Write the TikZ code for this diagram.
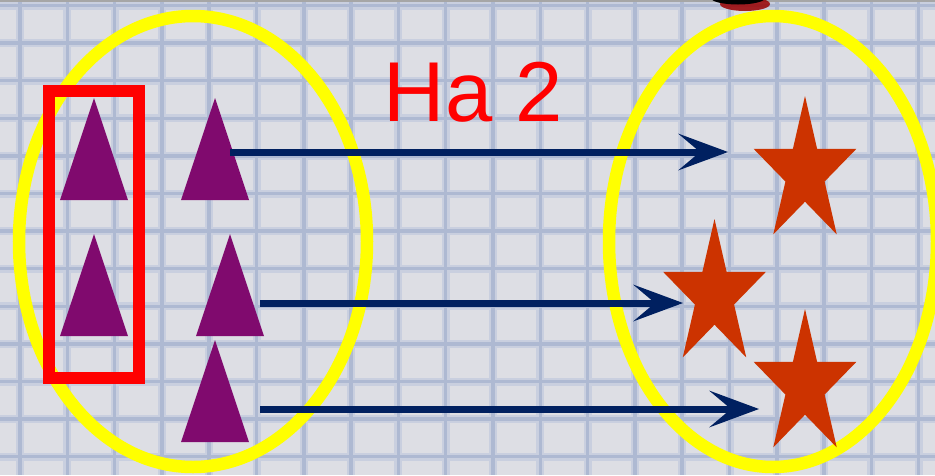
\documentclass[tikz,border=0pt]{standalone}
\usepackage{fontspec}
\setmainfont{Liberation Sans}
\usetikzlibrary{arrows.meta}
\definecolor{bgc}{RGB}{221,222,228}
\definecolor{gridsoft}{RGB}{201,207,223}
\definecolor{gridc}{RGB}{174,185,210}
\definecolor{tric}{RGB}{128,10,110}
\definecolor{starc}{RGB}{204,51,0}
\definecolor{navyc}{RGB}{0,32,96}
\definecolor{yelc}{RGB}{255,255,0}
\definecolor{redc}{RGB}{255,0,0}
\tikzset{
  gridhalo/.style={draw=gridsoft, line width=8pt},
  gridline/.style={draw=gridc, line width=3.5pt},
  setring/.style={draw=yelc, line width=12.5pt},
  groupbox/.style={draw=redc, line width=12pt},
  tri/.style={fill=tric},
  starfill/.style={fill=starc},
  maparrow/.style={draw=navyc, line width=7pt,
    -{Stealth[length=50pt,width=37pt,inset=22pt,line width=0pt]}},
  title/.style={text=redc, font=\fontsize{85}{100}\selectfont, inner sep=0pt, anchor=base west}
}
\newcommand\mystarshape[2]{%
  \begin{scope}[shift={(#1,#2)}]
    \fill[starfill] (-90:54 and 76.5) -- (-54:20.6 and 29.2) -- (-18:54 and 76.5)
      -- (18:20.6 and 29.2) -- (54:54 and 76.5) -- (90:20.6 and 29.2)
      -- (126:54 and 76.5) -- (162:20.6 and 29.2) -- (198:54 and 76.5)
      -- (234:20.6 and 29.2) -- cycle;
  \end{scope}}
\begin{document}
\begin{tikzpicture}[x=1pt,y=-1pt]
\useasboundingbox (0,0) rectangle (935,475);
% paper background
\fill[bgc] (0,0) rectangle (935,475);
\foreach \k in {0,...,19} \draw[gridhalo] (20+47.3*\k,0) -- (20+47.3*\k,475);
\foreach \k in {0,...,12} \draw[gridhalo] (0,5.5+37.6*\k) -- (935,5.5+37.6*\k);
\foreach \k in {0,...,19} \draw[gridline] (20+47.3*\k,0) -- (20+47.3*\k,475);
\foreach \k in {0,...,12} \draw[gridline] (0,5.5+37.6*\k) -- (935,5.5+37.6*\k);
\fill[black!35] (0,0) rectangle (935,2);
% cropped blob at top
\fill[red!60!black, opacity=0.85] (745,4) ellipse (25 and 7);
\fill[black] (738,-2) ellipse (27 and 6.5);
% sets
\draw[setring] (193,241.5) ellipse (174 and 225.5);
\draw[setring] (773,241.5) ellipse (164 and 225.5);
% group of two
\draw[groupbox] (49,91) rectangle (139,378);
% triangles
\fill[tri] (94,98) -- (128,200) -- (60,200) -- cycle;
\fill[tri] (215,98) -- (249,200) -- (181,200) -- cycle;
\fill[tri] (94,234) -- (128,336) -- (60,336) -- cycle;
\fill[tri] (230,234) -- (264,336) -- (196,336) -- cycle;
\fill[tri] (215,340) -- (249,442) -- (181,442) -- cycle;
% stars
\mystarshape{805}{172.5}
\mystarshape{714.5}{295.5}
\mystarshape{805}{385.5}
% arrow ends
\coordinate (a1s) at (230,152);
\coordinate (a1e) at (728,152);
\coordinate (a2s) at (260,303);
\coordinate (a2e) at (683,303);
\coordinate (a3s) at (260,409);
\coordinate (a3e) at (759,409);
\draw[maparrow] (a1s) -- (a1e);
\draw[maparrow] (a2s) -- (a2e);
\draw[maparrow] (a3s) -- (a3e);
% label
\node[title] (lbl) at (383.5,121) {Ha 2};
\end{tikzpicture}
\end{document}
